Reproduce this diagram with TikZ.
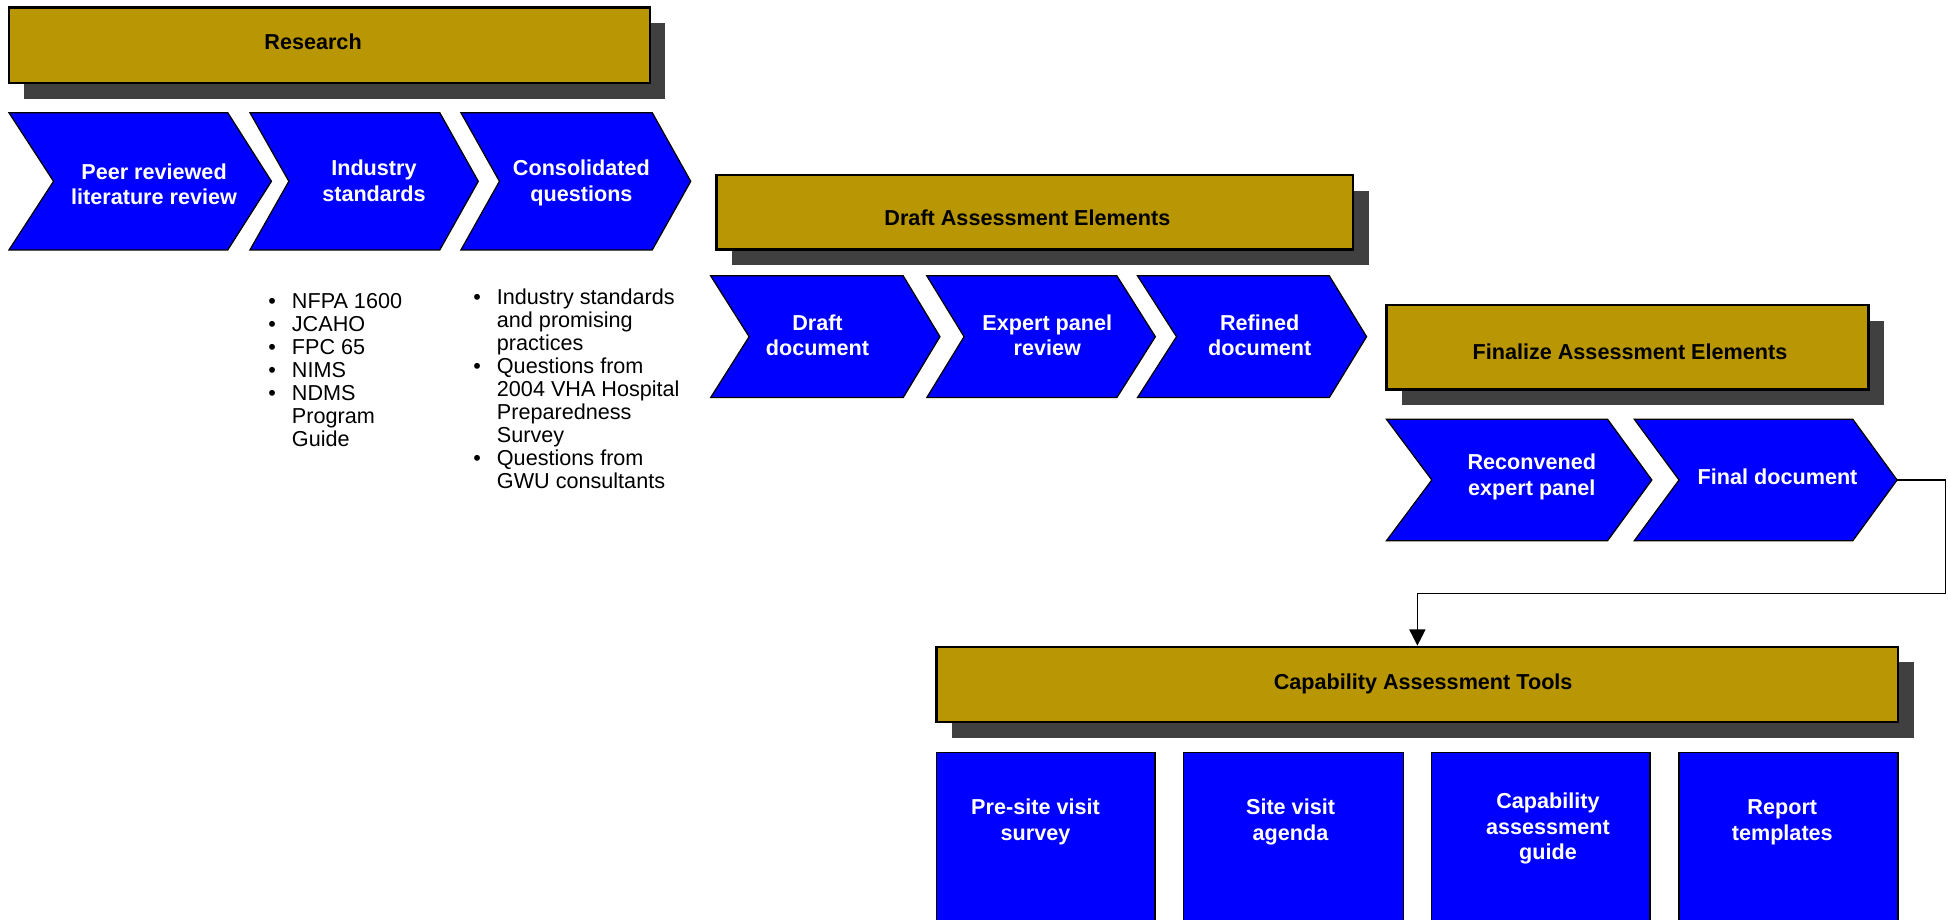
\documentclass[tikz,border=0pt]{standalone}
\usepackage{fontspec}
\setmainfont{Liberation Sans}
\usetikzlibrary{shadows,arrows.meta}
\definecolor{gold}{RGB}{184,150,4}
\definecolor{shade}{RGB}{64,64,64}
\definecolor{chevblue}{RGB}{0,0,255}
\tikzset{
  hdr/.style={draw=black, line width=0.9pt, fill=gold, inner sep=0pt,
    drop shadow={shadow xshift=6.25pt, shadow yshift=-6.25pt, fill=shade, opacity=1}},
  hdrtxt/.style={inner sep=0pt, anchor=base, font=\fontsize{8.7}{10.3}\selectfont\bfseries, text=black},
  chev/.style={draw=black, line width=0.5pt, fill=chevblue, line join=miter},
  chevtxt/.style={inner sep=0pt, align=center, font=\fontsize{8.7}{10.3}\selectfont\bfseries, text=white},
  sqbox/.style={draw=black, line width=0.7pt, fill=chevblue},
  listtxt/.style={inner sep=0pt, anchor=north west, font=\fontsize{8.7}{9.25}\selectfont, text=black},
  conn/.style={draw=black, line width=0.5pt, -{Triangle[length=6.5pt,width=6.5pt]}}
}
\newcommand\chevpath[6]{%
  \filldraw[chev] (#1,#5) -- (#3,#5) -- (#4,{(#5+#6)/2}) -- (#3,#6) -- (#1,#6) -- (#2,{(#5+#6)/2}) -- cycle;}
\newcommand\bul{\makebox[9.5pt][l]{•}}
\begin{document}
\begin{tikzpicture}[x=0.5pt,y=-0.5pt]
\path[use as bounding box] (0,0) rectangle (1568,740);
\fill[white] (0,0) rectangle (1568,740);

% ---------- Research ----------
\node[hdr, minimum width=258pt, minimum height=30.5pt] (research) at (265,36.5) {};
\node[hdrtxt] (researchT) at (252,39.8) {Research};
\chevpath{7.2}{43.1}{183.3}{218.5}{90.7}{201.2}
\chevpath{201.2}{232.5}{354}{385}{90.7}{201.2}
\chevpath{371}{402}{525}{556}{90.7}{201.2}
\node[chevtxt] (peer) at (124,148.2) {Peer reviewed\\literature review};
\node[chevtxt] (indstd) at (301,145.7) {Industry\\standards};
\node[chevtxt] (consq) at (468,147.2) {Consolidated\\questions};

\node[listtxt] (list1) at (215.6,234.8) {\begin{tabular}{@{}l@{}l@{}}
\bul & NFPA 1600\\
\bul & JCAHO\\
\bul & FPC 65\\
\bul & NIMS\\
\bul & NDMS\\
 & Program\\
 & Guide
\end{tabular}};
\node[listtxt] (list2) at (380.6,232.1) {\begin{tabular}{@{}l@{}l@{}}
\bul & Industry standards\\
 & and promising\\
 & practices\\
\bul & Questions from\\
 & 2004 VHA Hospital\\
 & Preparedness\\
 & Survey\\
\bul & Questions from\\
 & GWU consultants
\end{tabular}};

% ---------- Draft Assessment Elements ----------
\node[hdr, minimum width=256.2pt, minimum height=29.9pt] (draft) at (832.9,170.9) {};
\node[hdrtxt] (draftT) at (827,181.3) {Draft Assessment Elements};
\chevpath{572}{603}{727}{756.6}{222}{320}
\chevpath{746}{776}{899}{930}{222}{320}
\chevpath{915.6}{947}{1070}{1100}{222}{320}
\node[chevtxt] (draftdoc) at (658,270) {Draft\\document};
\node[chevtxt] (expert) at (843,270) {Expert panel\\review};
\node[chevtxt] (refined) at (1014,270) {Refined\\document};

% ---------- Finalize Assessment Elements ----------
\node[hdr, minimum width=194pt, minimum height=34pt] (final) at (1310,279.5) {};
\node[hdrtxt] (finalT) at (1312,289.3) {Finalize Assessment Elements};
\chevpath{1116}{1152.5}{1294}{1329.6}{337.5}{435.2}
\chevpath{1315.5}{1351.5}{1491.4}{1527}{337.5}{435.2}
\node[chevtxt] (reconv) at (1233,384) {Reconvened\\expert panel};
\node[chevtxt] (finaldoc) at (1430.8,383.7) {Final document};
\coordinate (fdtip) at (1527,386.35);

% ---------- Capability Assessment Tools ----------
\node[hdr, minimum width=387.1pt, minimum height=30.45pt] (cat) at (1140.9,551) {};
\node[hdrtxt] (catT) at (1145.5,555) {Capability Assessment Tools};

\coordinate (bend) at (1566,477.5);
\draw[conn] (fdtip) -| (bend) -| (cat.north);

\draw[sqbox] (753.8,605.6) rectangle (929.5,760);
\draw[sqbox] (952.7,605.6) rectangle (1129.6,760);
\draw[sqbox] (1152.3,605.6) rectangle (1328,760);
\draw[sqbox] (1351.3,605.6) rectangle (1528,760);
\node[chevtxt] (presite) at (833.5,661.8) {Pre-site visit\\survey};
\node[chevtxt] (sitevisit) at (1038.8,661.8) {Site visit\\agenda};
\node[chevtxt] (capguide) at (1246,667.1) {Capability\\assessment\\guide};
\node[chevtxt] (report) at (1434.6,661.8) {Report\\templates};
\end{tikzpicture}
\end{document}
